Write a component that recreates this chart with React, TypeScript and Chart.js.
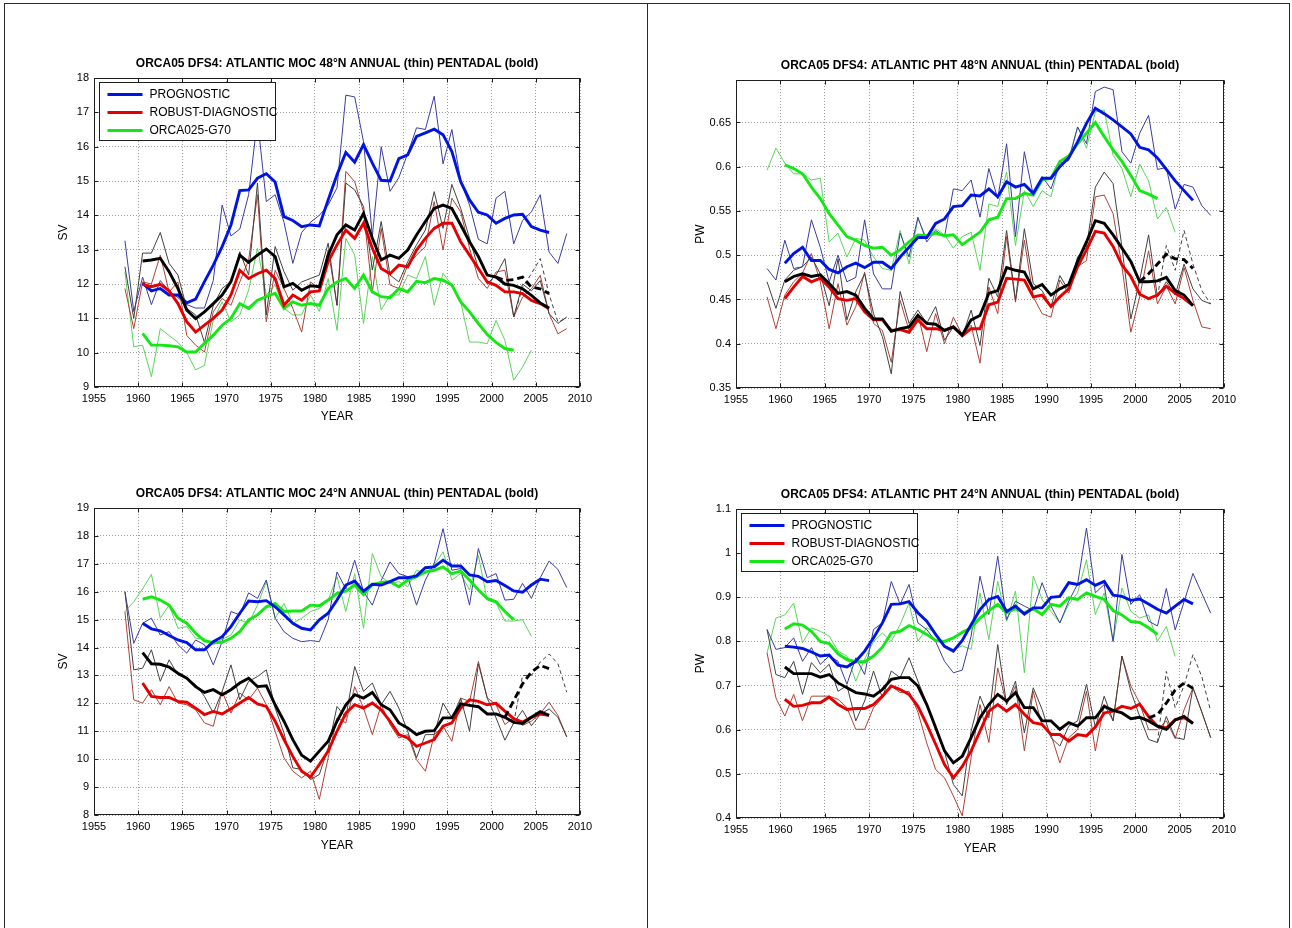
import React, { useEffect, useRef } from "react";
import { Chart, registerables } from "chart.js";

Chart.register(...registerables);

const FONT = '"Liberation Sans", Arial, Helvetica, sans-serif';

// ---------- axes ----------
const X_MIN = 1955;
const X_MAX = 2010;
const X_TICKS = [1955, 1960, 1965, 1970, 1975, 1980, 1985, 1990, 1995, 2000, 2005, 2010];
const Y_TICKS_MOC48 = [9, 10, 11, 12, 13, 14, 15, 16, 17, 18];
const Y_TICKS_PHT48 = [0.35, 0.4, 0.45, 0.5, 0.55, 0.6, 0.65];
const Y_TICKS_MOC24 = [8, 9, 10, 11, 12, 13, 14, 15, 16, 17, 18, 19];
const Y_TICKS_PHT24 = [0.4, 0.5, 0.6, 0.7, 0.8, 0.9, 1, 1.1];

// ---------- series first years (annual means plotted at mid-year) ----------
const ANNUAL_START = 1958; // annual 1958..2008 (ORCA025 annual 1958..2004)
const PENTADAL_START = 1960; // pentadal 1960..2006 (ORCA025 pentadal 1960..2002)
const DASH_ANNUAL_START = 2002;
const DASH_PENTADAL_START_48 = 2000;
const DASH_PENTADAL_START_24 = 2001;

const LEGEND_LABELS = ["PROGNOSTIC", "ROBUST-DIAGNOSTIC", "ORCA025-G70"];

// ---------- ATLANTIC MOC 48N (Sv) ----------
const MOC48_BLUE_ANN = [13.26, 11.2, 12.2, 11.4, 12.1, 11.8, 11.6, 11.4, 11.3, 11.3,
  12.1, 14.3, 13.4, 13.6, 14.6, 16.8, 14.4, 14.6, 13.8, 12.6,
  13.5, 13.8, 14.0, 14.3, 14.8, 17.5, 17.45, 16.15, 13.4, 16.0,
  14.7, 15.1, 15.8, 16.55, 16.5, 17.47, 15.5, 16.5, 15.0, 14.3,
  13.3, 13.17, 14.5, 14.7, 13.17, 13.85, 14.1, 14.6, 12.93, 12.6,
  13.47];
const MOC48_RED_ANN = [11.87, 10.7, 12.06, 12.0, 12.84, 11.77, 12.06, 10.5, 10.22, 10.02,
  11.19, 11.58, 11.38, 12.06, 12.7, 14.6, 10.9, 12.4, 11.87, 11.29,
  10.6, 12.06, 11.87, 12.99, 11.38, 15.28, 14.98, 14.1, 11.77, 13.62,
  11.97, 11.87, 12.55, 12.84, 13.09, 14.4, 12.99, 14.5, 14.1, 13.04,
  12.16, 11.87, 12.35, 12.4, 11.04, 11.62, 11.86, 12.25, 11.14, 10.55,
  10.7];
const MOC48_BLACK_ANN = [12.5, 11.0, 12.9, 12.9, 13.5, 12.6, 12.26, 11.29, 11.1, 10.3,
  11.38, 11.87, 12.07, 12.94, 12.26, 14.94, 11.1, 13.09, 12.36, 11.82,
  12.06, 12.16, 12.26, 13.19, 11.38, 14.94, 14.74, 14.26, 12.41, 13.82,
  12.26, 12.06, 12.65, 13.14, 13.57, 14.69, 13.62, 14.9, 14.2, 13.33,
  12.45, 12.01, 12.26, 12.74, 11.04, 12.0, 11.8, 12.1, 11.14, 10.85,
  11.04];
const MOC48_BLACKDASH_ANN = [11.04, 11.9, 12.3, 12.74, 11.7, 10.9, 11.0];
const MOC48_GREEN_ANN = [12.36, 10.17, 10.22, 9.3, 10.7, 10.5, 10.3, 10.0, 9.5, 9.63,
  10.95, 11.48, 10.9, 11.1, 11.82, 13.04, 11.68, 11.97, 11.29, 11.1,
  11.1, 11.68, 11.2, 12.16, 10.65, 13.33, 12.84, 10.85, 12.8, 11.24,
  11.68, 11.68, 12.26, 12.16, 12.8, 11.38, 12.31, 11.97, 11.48, 10.31,
  10.31, 10.26, 10.94, 10.36, 9.2, 9.58, 10.07];
const MOC48_BLUE_PENT = [12.02, 11.8, 11.87, 11.68, 11.68, 11.45, 11.56, 12.07, 12.55, 13.09,
  13.72, 14.72, 14.74, 15.08, 15.21, 14.97, 13.96, 13.85, 13.67, 13.72,
  13.69, 14.45, 15.18, 15.83, 15.55, 16.06, 15.52, 15.02, 15.0, 15.65,
  15.76, 16.3, 16.4, 16.51, 16.35, 15.86, 14.98, 14.45, 14.09, 14.01,
  13.77, 13.91, 14.01, 14.03, 13.67, 13.57, 13.5];
const MOC48_RED_PENT = [11.99, 11.92, 11.99, 11.8, 11.43, 10.9, 10.6, 10.8, 11.0, 11.24,
  11.68, 12.4, 12.16, 12.3, 12.4, 12.16, 11.38, 11.68, 11.53, 11.77,
  11.8, 12.65, 13.14, 13.57, 13.33, 13.77, 13.04, 12.45, 12.3, 12.55,
  12.5, 12.99, 13.33, 13.62, 13.77, 13.77, 13.23, 12.84, 12.45, 12.06,
  11.96, 11.77, 11.77, 11.72, 11.52, 11.43, 11.28];
const MOC48_BLACK_PENT = [12.67, 12.7, 12.75, 12.36, 11.87, 11.24, 10.99, 11.19, 11.43, 11.68,
  12.07, 12.84, 12.63, 12.84, 13.02, 12.8, 11.92, 12.02, 11.82, 11.95,
  11.92, 12.84, 13.43, 13.72, 13.57, 14.06, 13.33, 12.7, 12.84, 12.75,
  12.99, 13.43, 13.82, 14.2, 14.3, 14.2, 13.72, 13.23, 12.8, 12.26,
  12.2, 12.0, 11.96, 11.86, 11.67, 11.45, 11.3];
const MOC48_BLACKDASH_PENT = [12.2, 12.1, 12.13, 12.2, 11.91, 11.86, 11.72];
const MOC48_GREEN_PENT = [10.56, 10.22, 10.22, 10.2, 10.17, 10.02, 10.02, 10.27, 10.51, 10.8,
  11.0, 11.43, 11.29, 11.53, 11.63, 11.73, 11.29, 11.48, 11.38, 11.43,
  11.38, 11.87, 12.06, 12.16, 11.87, 12.26, 11.77, 11.63, 11.6, 11.87,
  11.77, 12.08, 12.04, 12.16, 12.11, 11.97, 11.48, 11.19, 10.85, 10.53,
  10.3, 10.12, 10.07];

// ---------- ATLANTIC PHT 48N (PW) ----------
const PHT48_BLUE_ANN = [0.485, 0.472, 0.517, 0.485, 0.487, 0.54, 0.509, 0.47, 0.5, 0.47,
  0.475, 0.54, 0.479, 0.462, 0.462, 0.525, 0.498, 0.543, 0.515, 0.528,
  0.521, 0.575, 0.573, 0.585, 0.543, 0.598, 0.564, 0.626, 0.521, 0.617,
  0.568, 0.589, 0.575, 0.604, 0.607, 0.645, 0.626, 0.685, 0.69, 0.687,
  0.617, 0.604, 0.638, 0.658, 0.597, 0.599, 0.552, 0.58, 0.577, 0.556,
  0.545];
const PHT48_RED_ANN = [0.453, 0.417, 0.455, 0.47, 0.48, 0.502, 0.47, 0.417, 0.468, 0.421,
  0.442, 0.481, 0.423, 0.415, 0.379, 0.449, 0.415, 0.434, 0.391, 0.434,
  0.4, 0.43, 0.41, 0.421, 0.378, 0.464, 0.434, 0.521, 0.447, 0.517,
  0.453, 0.434, 0.43, 0.472, 0.457, 0.487, 0.494, 0.566, 0.568, 0.547,
  0.487, 0.413, 0.453, 0.505, 0.445, 0.465, 0.445, 0.486, 0.449, 0.419,
  0.417];
const PHT48_BLACK_ANN = [0.47, 0.44, 0.472, 0.483, 0.487, 0.498, 0.479, 0.443, 0.496, 0.427,
  0.459, 0.479, 0.434, 0.408, 0.366, 0.459, 0.423, 0.438, 0.423, 0.442,
  0.404, 0.419, 0.408, 0.438, 0.398, 0.474, 0.453, 0.528, 0.449, 0.53,
  0.468, 0.46, 0.442, 0.477, 0.46, 0.498, 0.509, 0.577, 0.594, 0.581,
  0.509, 0.428, 0.472, 0.523, 0.453, 0.47, 0.455, 0.49, 0.462, 0.449,
  0.445];
const PHT48_BLACKDASH_ANN = [0.453, 0.511, 0.483, 0.528, 0.49, 0.46, 0.445];
const PHT48_GREEN_ANN = [0.596, 0.621, 0.604, 0.592, 0.592, 0.585, 0.587, 0.515, 0.525, 0.498,
  0.519, 0.517, 0.498, 0.485, 0.483, 0.528, 0.49, 0.541, 0.519, 0.53,
  0.523, 0.508, 0.521, 0.526, 0.483, 0.558, 0.555, 0.594, 0.511, 0.573,
  0.555, 0.573, 0.566, 0.607, 0.609, 0.645, 0.621, 0.662, 0.664, 0.613,
  0.598, 0.566, 0.603, 0.584, 0.541, 0.554, 0.526];
const PHT48_BLUE_PENT = [0.491, 0.502, 0.509, 0.494, 0.494, 0.484, 0.48, 0.487, 0.491, 0.486,
  0.492, 0.492, 0.485, 0.498, 0.509, 0.52, 0.52, 0.536, 0.541, 0.555,
  0.556, 0.568, 0.567, 0.575, 0.566, 0.583, 0.577, 0.58, 0.57, 0.587,
  0.587, 0.6, 0.61, 0.628, 0.649, 0.666, 0.66, 0.653, 0.645, 0.637,
  0.622, 0.619, 0.61, 0.597, 0.584, 0.573, 0.562];
const PHT48_RED_PENT = [0.451, 0.464, 0.476, 0.47, 0.474, 0.464, 0.451, 0.449, 0.451, 0.436,
  0.427, 0.427, 0.415, 0.416, 0.413, 0.427, 0.417, 0.417, 0.415, 0.419,
  0.409, 0.417, 0.417, 0.444, 0.447, 0.474, 0.473, 0.472, 0.453, 0.455,
  0.442, 0.453, 0.462, 0.487, 0.506, 0.527, 0.525, 0.51, 0.489, 0.476,
  0.456, 0.451, 0.455, 0.465, 0.457, 0.451, 0.443];
const PHT48_BLACK_PENT = [0.47, 0.476, 0.479, 0.476, 0.478, 0.468, 0.457, 0.459, 0.455, 0.44,
  0.428, 0.428, 0.414, 0.417, 0.419, 0.432, 0.423, 0.422, 0.415, 0.419,
  0.41, 0.427, 0.432, 0.457, 0.46, 0.486, 0.483, 0.481, 0.462, 0.467,
  0.455, 0.462, 0.467, 0.493, 0.515, 0.539, 0.536, 0.523, 0.508, 0.493,
  0.47, 0.47, 0.471, 0.475, 0.46, 0.455, 0.443];
const PHT48_BLACKDASH_PENT = [0.47, 0.479, 0.49, 0.501, 0.496, 0.495, 0.485];
const PHT48_GREEN_PENT = [0.602, 0.598, 0.592, 0.577, 0.564, 0.547, 0.534, 0.521, 0.517, 0.511,
  0.508, 0.509, 0.5, 0.506, 0.515, 0.523, 0.522, 0.525, 0.522, 0.523,
  0.512, 0.519, 0.526, 0.54, 0.543, 0.564, 0.564, 0.57, 0.568, 0.585,
  0.587, 0.606, 0.612, 0.626, 0.638, 0.65, 0.634, 0.619, 0.606, 0.59,
  0.573, 0.569, 0.564];

// ---------- ATLANTIC MOC 24N (Sv) ----------
const MOC24_BLUE_ANN = [16.0, 14.15, 14.87, 15.05, 14.45, 14.57, 14.1, 13.8, 14.27, 14.1,
  13.38, 14.21, 15.29, 15.17, 15.96, 15.76, 16.42, 15.05, 14.57, 14.33,
  14.21, 14.25, 14.21, 15.0, 16.71, 16.1, 17.13, 16.0, 15.52, 16.4,
  17.07, 16.65, 16.54, 15.52, 16.42, 17.01, 18.26, 16.77, 16.83, 15.52,
  17.55, 16.5, 16.65, 15.7, 15.73, 16.3, 15.76, 16.5, 17.1, 16.8,
  16.15];
const MOC24_RED_ANN = [15.29, 12.13, 12.01, 12.49, 11.95, 12.6, 12.01, 11.95, 11.77, 11.3,
  11.18, 12.43, 11.65, 12.37, 12.13, 12.55, 11.95, 11.0, 10.05, 9.57,
  9.33, 9.57, 8.56, 10.05, 11.48, 11.3, 12.6, 11.83, 10.88, 11.95,
  11.24, 10.76, 10.88, 9.98, 9.57, 10.88, 11.18, 10.64, 12.19, 12.07,
  13.5, 12.2, 11.95, 11.24, 11.48, 11.21, 11.36, 11.63, 12.04, 11.57,
  10.8];
const MOC24_BLACK_ANN = [16.0, 13.2, 13.26, 13.92, 12.79, 13.56, 13.02, 12.9, 12.67, 12.25,
  11.65, 12.43, 13.38, 12.13, 12.79, 12.96, 13.2, 11.83, 10.94, 9.69,
  9.63, 9.27, 9.45, 10.4, 11.89, 11.5, 13.32, 12.43, 12.73, 11.95,
  12.43, 11.83, 11.0, 10.05, 10.88, 10.88, 12.01, 11.48, 12.19, 11.0,
  13.42, 12.19, 11.48, 10.68, 11.3, 11.75, 11.2, 11.6, 11.8, 11.5,
  10.8];
const MOC24_BLACKDASH_ANN = [11.3, 13.0, 13.0, 13.48, 13.77, 13.42, 12.4];
const MOC24_GREEN_ANN = [15.29, 15.64, 16.1, 16.62, 15.05, 15.52, 14.69, 14.75, 14.33, 14.33,
  14.1, 14.3, 14.45, 14.99, 14.87, 15.52, 16.36, 15.05, 15.58, 14.87,
  15.05, 15.29, 15.4, 15.7, 16.54, 15.29, 16.65, 14.69, 17.37, 16.54,
  16.3, 16.36, 16.18, 16.77, 16.65, 16.95, 17.43, 16.42, 16.65, 16.06,
  17.3, 15.7, 15.6, 14.95, 14.95, 15.0, 14.4];
const MOC24_BLUE_PENT = [14.87, 14.67, 14.6, 14.43, 14.27, 14.18, 13.92, 13.92, 14.21, 14.39,
  14.75, 15.23, 15.67, 15.64, 15.68, 15.46, 15.17, 14.87, 14.69, 14.63,
  14.99, 15.23, 15.7, 16.24, 16.38, 16.02, 16.27, 16.24, 16.36, 16.5,
  16.5, 16.57, 16.86, 16.89, 17.13, 16.92, 16.92, 16.6, 16.55, 16.36,
  16.4, 16.22, 16.03, 15.98, 16.24, 16.45, 16.4];
const MOC24_RED_PENT = [12.73, 12.25, 12.21, 12.21, 12.07, 12.04, 11.83, 11.6, 11.71, 11.62,
  11.81, 12.01, 12.21, 11.98, 11.89, 11.36, 10.7, 10.1, 9.57, 9.36,
  9.81, 10.29, 11.0, 11.65, 11.95, 11.83, 12.01, 11.77, 11.36, 10.88,
  10.76, 10.46, 10.58, 10.7, 11.18, 11.3, 11.83, 12.13, 12.07, 11.95,
  12.0, 11.72, 11.45, 11.33, 11.5, 11.62, 11.57];
const MOC24_BLACK_PENT = [13.82, 13.42, 13.4, 13.3, 13.08, 12.9, 12.6, 12.39, 12.49, 12.31,
  12.49, 12.73, 12.9, 12.6, 12.63, 11.95, 11.36, 10.7, 10.14, 9.93,
  10.29, 10.64, 11.36, 11.95, 12.31, 12.19, 12.39, 11.95, 11.77, 11.3,
  11.12, 10.88, 11.0, 11.02, 11.48, 11.48, 11.98, 11.93, 11.88, 11.62,
  11.62, 11.5, 11.32, 11.28, 11.5, 11.7, 11.57];
const MOC24_BLACKDASH_PENT = [11.5, 12.1, 12.7, 13.12, 13.36, 13.24];
const MOC24_GREEN_PENT = [15.73, 15.82, 15.7, 15.52, 15.05, 14.87, 14.51, 14.24, 14.18, 14.19,
  14.33, 14.57, 14.99, 15.17, 15.46, 15.58, 15.29, 15.31, 15.31, 15.52,
  15.5, 15.7, 15.94, 16.02, 16.24, 15.9, 16.26, 16.33, 16.36, 16.18,
  16.42, 16.54, 16.71, 16.77, 16.89, 16.65, 16.74, 16.42, 16.06, 15.76,
  15.64, 15.29, 15.0];

// ---------- ATLANTIC PHT 24N (PW) ----------
const PHT24_BLUE_ANN = [0.827, 0.782, 0.786, 0.808, 0.755, 0.786, 0.748, 0.767, 0.755, 0.703,
  0.763, 0.725, 0.827, 0.842, 0.936, 0.884, 0.929, 0.842, 0.827, 0.8,
  0.755, 0.729, 0.735, 0.812, 0.948, 0.861, 0.993, 0.849, 0.891, 0.88,
  0.87, 0.933, 0.88, 0.842, 0.891, 0.93, 1.057, 0.91, 0.929, 0.8,
  0.997, 0.884, 0.906, 0.846, 0.835, 0.92, 0.826, 0.89, 0.954, 0.909,
  0.864];
const PHT24_RED_ANN = [0.774, 0.672, 0.631, 0.68, 0.62, 0.676, 0.676, 0.676, 0.669, 0.65,
  0.601, 0.601, 0.65, 0.672, 0.699, 0.684, 0.687, 0.64, 0.57, 0.51,
  0.491, 0.45, 0.405, 0.537, 0.657, 0.571, 0.74, 0.657, 0.699, 0.552,
  0.687, 0.608, 0.589, 0.525, 0.582, 0.6, 0.687, 0.552, 0.657, 0.62,
  0.767, 0.699, 0.66, 0.6, 0.6, 0.62, 0.58, 0.645, 0.695, 0.64,
  0.582];
const PHT24_BLACK_ANN = [0.827, 0.725, 0.718, 0.755, 0.68, 0.752, 0.729, 0.748, 0.687, 0.7,
  0.62, 0.665, 0.733, 0.672, 0.733, 0.718, 0.763, 0.71, 0.66, 0.6,
  0.55, 0.476, 0.45, 0.597, 0.676, 0.627, 0.793, 0.657, 0.71, 0.593,
  0.695, 0.646, 0.582, 0.563, 0.608, 0.62, 0.703, 0.605, 0.676, 0.62,
  0.767, 0.687, 0.63, 0.578, 0.571, 0.63, 0.582, 0.578, 0.695, 0.64,
  0.582];
const PHT24_BLACKDASH_ANN = [0.571, 0.732, 0.65, 0.7, 0.77, 0.72, 0.642];
const PHT24_GREEN_ANN = [0.774, 0.853, 0.86, 0.887, 0.797, 0.831, 0.823, 0.812, 0.778, 0.767,
  0.71, 0.76, 0.8, 0.819, 0.8, 0.838, 0.887, 0.8, 0.831, 0.819,
  0.789, 0.782, 0.79, 0.782, 0.91, 0.804, 0.936, 0.846, 0.914, 0.729,
  0.948, 0.895, 0.868, 0.842, 0.884, 0.91, 0.985, 0.861, 0.91, 0.8,
  0.921, 0.868, 0.853, 0.86, 0.8, 0.834, 0.766];
const PHT24_BLUE_PENT = [0.789, 0.787, 0.784, 0.776, 0.767, 0.769, 0.746, 0.742, 0.755, 0.778,
  0.808, 0.842, 0.884, 0.885, 0.89, 0.865, 0.846, 0.816, 0.789, 0.778,
  0.802, 0.838, 0.872, 0.895, 0.902, 0.868, 0.88, 0.862, 0.876, 0.876,
  0.9, 0.902, 0.933, 0.929, 0.94, 0.927, 0.936, 0.905, 0.902, 0.893,
  0.896, 0.885, 0.873, 0.864, 0.88, 0.895, 0.885];
const PHT24_RED_PENT = [0.669, 0.653, 0.655, 0.661, 0.661, 0.674, 0.657, 0.646, 0.648, 0.648,
  0.657, 0.676, 0.699, 0.691, 0.68, 0.653, 0.612, 0.567, 0.521, 0.491,
  0.517, 0.552, 0.597, 0.642, 0.657, 0.642, 0.657, 0.635, 0.616, 0.612,
  0.589, 0.589, 0.574, 0.589, 0.586, 0.606, 0.638, 0.642, 0.653, 0.648,
  0.658, 0.63, 0.608, 0.604, 0.623, 0.627, 0.615];
const PHT24_BLACK_PENT = [0.742, 0.727, 0.727, 0.727, 0.719, 0.725, 0.706, 0.695, 0.684, 0.681,
  0.676, 0.691, 0.714, 0.718, 0.718, 0.699, 0.657, 0.605, 0.552, 0.525,
  0.54, 0.582, 0.627, 0.657, 0.68, 0.665, 0.684, 0.65, 0.65, 0.62,
  0.62, 0.601, 0.616, 0.608, 0.627, 0.627, 0.653, 0.644, 0.638, 0.625,
  0.628, 0.62, 0.608, 0.601, 0.622, 0.63, 0.614];
const PHT24_BLACKDASH_PENT = [0.627, 0.634, 0.66, 0.69, 0.706, 0.694];
const PHT24_GREEN_PENT = [0.828, 0.84, 0.837, 0.823, 0.8, 0.795, 0.772, 0.759, 0.754, 0.754,
  0.767, 0.787, 0.819, 0.823, 0.836, 0.827, 0.816, 0.802, 0.8, 0.808,
  0.821, 0.831, 0.853, 0.87, 0.884, 0.865, 0.874, 0.865, 0.874, 0.861,
  0.884, 0.88, 0.899, 0.895, 0.91, 0.902, 0.895, 0.87, 0.86, 0.845,
  0.843, 0.831, 0.816];

// ---------- styles ----------
const COLORS = {
  blueBold: "rgb(0,20,225)",
  redBold: "rgb(228,0,0)",
  greenBold: "rgb(20,232,20)",
  blackBold: "#000000",
  blueThin: "rgb(60,60,160)",
  redThin: "rgb(175,65,55)",
  greenThin: "rgb(90,212,90)",
  blackThin: "rgb(65,65,65)",
};

type Rect = { left: number; top: number; right: number; bottom: number };
type Panel = {
  key: string;
  title: string;
  yLabel: string;
  yMin: number;
  yMax: number;
  yTicks: number[];
  legend: boolean;
  canvas: { left: number; top: number; width: number; height: number };
  area: Rect;
  yAxisWidth: number;
  xAxisHeight: number;
  blueAnn: number[]; redAnn: number[]; blackAnn: number[]; blackDashAnn: number[]; greenAnn: number[];
  bluePent: number[]; redPent: number[]; blackPent: number[]; blackDashPent: number[]; greenPent: number[];
  dashPentStart: number;
};

const PANELS: Panel[] = [
  {
    key: "moc48",
    title: "ORCA05 DFS4: ATLANTIC MOC 48°N ANNUAL (thin) PENTADAL (bold)",
    yLabel: "SV", yMin: 9, yMax: 18, yTicks: Y_TICKS_MOC48, legend: true,
    canvas: { left: 0, top: 30, width: 646, height: 420 },
    area: { left: 94, top: 78, right: 580, bottom: 387 },
    yAxisWidth: 40, xAxisHeight: 37,
    blueAnn: MOC48_BLUE_ANN, redAnn: MOC48_RED_ANN, blackAnn: MOC48_BLACK_ANN, blackDashAnn: MOC48_BLACKDASH_ANN, greenAnn: MOC48_GREEN_ANN,
    bluePent: MOC48_BLUE_PENT, redPent: MOC48_RED_PENT, blackPent: MOC48_BLACK_PENT, blackDashPent: MOC48_BLACKDASH_PENT, greenPent: MOC48_GREEN_PENT,
    dashPentStart: DASH_PENTADAL_START_48,
  },
  {
    key: "pht48",
    title: "ORCA05 DFS4: ATLANTIC PHT 48°N ANNUAL (thin) PENTADAL (bold)",
    yLabel: "PW", yMin: 0.35, yMax: 0.698, yTicks: Y_TICKS_PHT48, legend: false,
    canvas: { left: 647, top: 30, width: 645, height: 420 },
    area: { left: 736, top: 80, right: 1224, bottom: 388 },
    yAxisWidth: 45, xAxisHeight: 37,
    blueAnn: PHT48_BLUE_ANN, redAnn: PHT48_RED_ANN, blackAnn: PHT48_BLACK_ANN, blackDashAnn: PHT48_BLACKDASH_ANN, greenAnn: PHT48_GREEN_ANN,
    bluePent: PHT48_BLUE_PENT, redPent: PHT48_RED_PENT, blackPent: PHT48_BLACK_PENT, blackDashPent: PHT48_BLACKDASH_PENT, greenPent: PHT48_GREEN_PENT,
    dashPentStart: DASH_PENTADAL_START_48,
  },
  {
    key: "moc24",
    title: "ORCA05 DFS4: ATLANTIC MOC 24°N ANNUAL (thin) PENTADAL (bold)",
    yLabel: "SV", yMin: 8, yMax: 19, yTicks: Y_TICKS_MOC24, legend: false,
    canvas: { left: 0, top: 460, width: 646, height: 440 },
    area: { left: 94, top: 508, right: 580, bottom: 815 },
    yAxisWidth: 40, xAxisHeight: 38,
    blueAnn: MOC24_BLUE_ANN, redAnn: MOC24_RED_ANN, blackAnn: MOC24_BLACK_ANN, blackDashAnn: MOC24_BLACKDASH_ANN, greenAnn: MOC24_GREEN_ANN,
    bluePent: MOC24_BLUE_PENT, redPent: MOC24_RED_PENT, blackPent: MOC24_BLACK_PENT, blackDashPent: MOC24_BLACKDASH_PENT, greenPent: MOC24_GREEN_PENT,
    dashPentStart: DASH_PENTADAL_START_24,
  },
  {
    key: "pht24",
    title: "ORCA05 DFS4: ATLANTIC PHT 24°N ANNUAL (thin) PENTADAL (bold)",
    yLabel: "PW", yMin: 0.4, yMax: 1.1, yTicks: Y_TICKS_PHT24, legend: true,
    canvas: { left: 647, top: 460, width: 645, height: 440 },
    area: { left: 736, top: 509, right: 1224, bottom: 818 },
    yAxisWidth: 45, xAxisHeight: 38,
    blueAnn: PHT24_BLUE_ANN, redAnn: PHT24_RED_ANN, blackAnn: PHT24_BLACK_ANN, blackDashAnn: PHT24_BLACKDASH_ANN, greenAnn: PHT24_GREEN_ANN,
    bluePent: PHT24_BLUE_PENT, redPent: PHT24_RED_PENT, blackPent: PHT24_BLACK_PENT, blackDashPent: PHT24_BLACKDASH_PENT, greenPent: PHT24_GREEN_PENT,
    dashPentStart: DASH_PENTADAL_START_24,
  },
];

function pts(first: number, values: number[]) {
  return values.map((v, i) => ({ x: first + i + 0.5, y: v }));
}

function line(label: string, color: string, first: number, values: number[], bold: boolean, order: number, dash: number[] = []) {
  return {
    label,
    data: pts(first, values),
    borderColor: color,
    backgroundColor: color,
    borderWidth: bold ? 2.9 : 1,
    borderDash: dash,
    pointRadius: 0,
    pointHoverRadius: 0,
    tension: 0,
    fill: false,
    order,
  };
}

function buildDatasets(p: Panel) {
  return [
    line("black pentadal", COLORS.blackBold, PENTADAL_START, p.blackPent, true, 0),
    line("black pentadal (dashed)", COLORS.blackBold, p.dashPentStart, p.blackDashPent, true, 0, [7, 4]),
    line(LEGEND_LABELS[1] + " pentadal", COLORS.redBold, PENTADAL_START, p.redPent, true, 1),
    line(LEGEND_LABELS[0] + " pentadal", COLORS.blueBold, PENTADAL_START, p.bluePent, true, 1),
    line(LEGEND_LABELS[2] + " pentadal", COLORS.greenBold, PENTADAL_START, p.greenPent, true, 1),
    line("black annual", COLORS.blackThin, ANNUAL_START, p.blackAnn, false, 2),
    line("black annual (dashed)", COLORS.blackThin, DASH_ANNUAL_START, p.blackDashAnn, false, 2, [4, 3]),
    line(LEGEND_LABELS[1] + " annual", COLORS.redThin, ANNUAL_START, p.redAnn, false, 2),
    line(LEGEND_LABELS[0] + " annual", COLORS.blueThin, ANNUAL_START, p.blueAnn, false, 2),
    line(LEGEND_LABELS[2] + " annual", COLORS.greenThin, ANNUAL_START, p.greenAnn, false, 2),
  ];
}

const decorPlugin = {
  id: "decor",
  afterDatasetsDraw(chart: any, _args: any, opts: any) {
    const { ctx, chartArea } = chart;
    const { left, right, top, bottom } = chartArea;
    ctx.save();
    ctx.setLineDash([]);
    // axes box
    ctx.strokeStyle = "#1e1e1e";
    ctx.lineWidth = 1;
    const L = Math.round(left) + 0.5, T = Math.round(top) + 0.5;
    const R = Math.round(right) - 0.5, B = Math.round(bottom) - 0.5;
    ctx.strokeRect(L, T, R - L, B - T);
    // inward tick marks on all sides
    const tl = 4;
    ctx.beginPath();
    const xs = chart.scales.x, ys = chart.scales.y;
    xs.ticks.forEach((t: any) => {
      const px = Math.round(xs.getPixelForValue(t.value)) + 0.5;
      ctx.moveTo(px, B); ctx.lineTo(px, B - tl);
      ctx.moveTo(px, T); ctx.lineTo(px, T + tl);
    });
    ys.ticks.forEach((t: any) => {
      const py = Math.round(ys.getPixelForValue(t.value)) + 0.5;
      ctx.moveTo(L, py); ctx.lineTo(L + tl, py);
      ctx.moveTo(R, py); ctx.lineTo(R - tl, py);
    });
    ctx.stroke();

    // title
    ctx.fillStyle = "#000";
    ctx.font = `bold 12px ${FONT}`;
    ctx.textAlign = "center";
    ctx.textBaseline = "middle";
    ctx.fillText(opts.title, (left + right) / 2, top - 14);

    // legend box
    if (opts.legend) {
      const bx = Math.round(left) + 5.5, by = Math.round(top) + 4.5;
      const bw = 176, bh = 58;
      ctx.fillStyle = "#fff";
      ctx.fillRect(bx, by, bw, bh);
      ctx.strokeStyle = "#1e1e1e";
      ctx.lineWidth = 1;
      ctx.strokeRect(bx, by, bw, bh);
      const colors = [COLORS.blueBold, COLORS.redBold, COLORS.greenBold];
      ctx.font = `12px ${FONT}`;
      ctx.textAlign = "left";
      ctx.textBaseline = "middle";
      LEGEND_LABELS.forEach((lab, i) => {
        const y = by + 12 + i * 18;
        ctx.strokeStyle = colors[i];
        ctx.lineWidth = 2.9;
        ctx.beginPath();
        ctx.moveTo(bx + 8, y);
        ctx.lineTo(bx + 43, y);
        ctx.stroke();
        ctx.fillStyle = "#000";
        ctx.fillText(lab, bx + 50, y + 0.5);
      });
    }
    ctx.restore();
  },
};

function fmtNum(v: number) {
  return String(Number(v.toFixed(3)));
}

function PanelChart({ panel }: { panel: Panel }) {
  const ref = useRef<HTMLCanvasElement | null>(null);
  useEffect(() => {
    const canvas = ref.current;
    if (!canvas) return;
    const c = panel.canvas;
    const a = panel.area;
    const padLeft = a.left - c.left - panel.yAxisWidth;
    const padTop = a.top - c.top;
    const padRight = c.left + c.width - a.right;
    const padBottom = c.top + c.height - a.bottom - panel.xAxisHeight;
    const chart = new Chart(canvas, {
      type: "line",
      data: { datasets: buildDatasets(panel) as any },
      options: {
        responsive: false,
        animation: false,
        devicePixelRatio: 1,
        events: [],
        layout: { padding: { left: padLeft, top: padTop, right: padRight, bottom: padBottom } },
        plugins: {
          legend: { display: false },
          tooltip: { enabled: false },
          title: { display: false },
          decor: { title: panel.title, legend: panel.legend },
        } as any,
        scales: {
          x: {
            type: "linear",
            min: X_MIN,
            max: X_MAX,
            afterBuildTicks: (scale: any) => { scale.ticks = X_TICKS.map((v) => ({ value: v })); },
            afterFit: (scale: any) => { scale.height = panel.xAxisHeight; },
            ticks: {
              color: "#000",
              font: { family: FONT, size: 11 },
              padding: 5,
              maxRotation: 0,
              autoSkip: false,
              callback: (v: any) => String(v),
            },
            grid: { color: "rgba(0,0,0,0.38)", lineWidth: 1, drawTicks: false },
            border: { display: false, dash: [1, 2] },
            title: { display: true, text: "YEAR", color: "#000", font: { family: FONT, size: 12 }, padding: { top: 0, bottom: 0 } },
          },
          y: {
            type: "linear",
            min: panel.yMin,
            max: panel.yMax,
            afterBuildTicks: (scale: any) => { scale.ticks = panel.yTicks.map((v) => ({ value: v })); },
            afterFit: (scale: any) => { scale.width = panel.yAxisWidth; },
            ticks: {
              color: "#000",
              font: { family: FONT, size: 11 },
              padding: 5,
              autoSkip: false,
              callback: (v: any) => fmtNum(Number(v)),
            },
            grid: { color: "rgba(0,0,0,0.38)", lineWidth: 1, drawTicks: false },
            border: { display: false, dash: [1, 2] },
            title: { display: true, text: panel.yLabel, color: "#000", font: { family: FONT, size: 12 }, padding: { top: 2, bottom: 0 } },
          },
        },
      } as any,
      plugins: [decorPlugin as any],
    });
    return () => chart.destroy();
  }, [panel]);
  const c = panel.canvas;
  return (
    <canvas
      ref={ref}
      width={c.width}
      height={c.height}
      style={{ position: "absolute", left: c.left, top: c.top, width: c.width, height: c.height }}
    />
  );
}

export default function App() {
  const frame = "#2a2a2a";
  return (
    <div style={{ position: "absolute", left: 0, top: 0, width: 1292, height: 928, background: "#fff", overflow: "hidden" }}>
      {PANELS.map((p) => (
        <PanelChart key={p.key} panel={p} />
      ))}
      <div style={{ position: "absolute", left: 4, top: 3, width: 1, height: 925, background: frame }} />
      <div style={{ position: "absolute", left: 4, top: 3, width: 1286, height: 1, background: frame }} />
      <div style={{ position: "absolute", left: 647, top: 3, width: 1, height: 925, background: frame }} />
      <div style={{ position: "absolute", left: 1289, top: 3, width: 1, height: 925, background: frame }} />
    </div>
  );
}
